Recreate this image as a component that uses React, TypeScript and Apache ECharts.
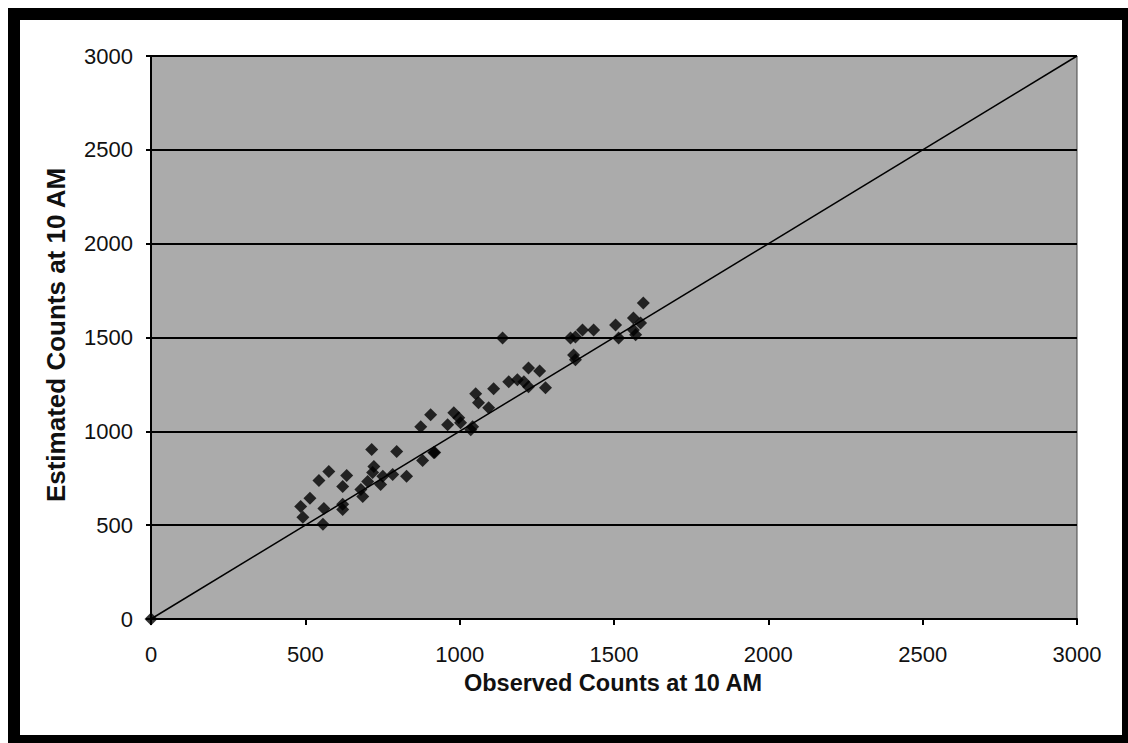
import React, { useEffect, useRef } from "react";
import * as echarts from "echarts";

const observed: number[] = [
  0, 485, 492, 515, 557, 560, 544, 576, 621, 621, 634, 621, 680, 686, 702, 715,
  722, 718, 744, 751, 783, 796, 828, 874, 880, 919, 906, 916, 961, 981, 997,
  1003, 1036, 1042, 1052, 1061, 1094, 1110, 1159, 1187, 1208, 1223, 1223, 1259,
  1278, 1139, 1359, 1375, 1369, 1375, 1398, 1434, 1505, 1515, 1563, 1586, 1563,
  1570, 1595,
];
const estimated: number[] = [
  0, 600, 542, 643, 505, 589, 738, 786, 611, 584, 765, 706, 690, 653, 733, 903,
  813, 780, 717, 760, 770, 892, 760, 1025, 844, 887, 1089, 887, 1035, 1099, 1073,
  1046, 1009, 1025, 1200, 1152, 1126, 1227, 1264, 1275, 1264, 1338, 1237, 1322,
  1232, 1498, 1498, 1503, 1407, 1381, 1540, 1540, 1567, 1498, 1604, 1577, 1540,
  1514, 1684,
];
const identityLine: number[][] = [
  [0, 0],
  [3000, 3000],
];
const tickValues: number[] = [0, 500, 1000, 1500, 2000, 2500, 3000];
const xTitle = "Observed Counts at 10 AM";
const yTitle = "Estimated Counts at 10 AM";

export default function App() {
  const ref = useRef<HTMLDivElement>(null);
  useEffect(() => {
    if (!ref.current) return;
    const chart = echarts.init(ref.current, undefined, { renderer: "svg" });
    const points = observed.map((x, i) => [x, estimated[i]]);
    const font = "'Liberation Sans', Arial, sans-serif";
    const fmt = (v: number) => String(v);
    chart.setOption({
      animation: false,
      grid: {
        left: 151,
        right: 51,
        top: 56,
        bottom: 124,
        show: true,
        backgroundColor: "#ababab",
        borderColor: "#444",
        borderWidth: 1,
      },
      xAxis: {
        type: "value",
        min: tickValues[0],
        max: tickValues[tickValues.length - 1],
        interval: 500,
        axisLine: { show: true, lineStyle: { color: "#000", width: 2 } },
        axisTick: { show: true, inside: false, length: 6, lineStyle: { color: "#000", width: 2 } },
        splitLine: { show: false },
        axisLabel: { color: "#111", fontSize: 22, fontFamily: font, margin: 24, formatter: fmt },
      },
      yAxis: {
        type: "value",
        min: tickValues[0],
        max: tickValues[tickValues.length - 1],
        interval: 500,
        axisLine: { show: true, lineStyle: { color: "#000", width: 2 } },
        axisTick: { show: true, inside: false, length: 5, lineStyle: { color: "#000", width: 2 } },
        splitLine: { show: true, lineStyle: { color: "#000", width: 2 } },
        axisLabel: { color: "#111", fontSize: 22, fontFamily: font, margin: 18, formatter: fmt },
      },
      graphic: [
        {
          type: "text",
          x: 613,
          y: 683,
          style: {
            text: xTitle,
            font: `bold 23.5px ${font}`,
            fill: "#111",
            textAlign: "center",
            textVerticalAlign: "middle",
          },
        },
        {
          type: "text",
          x: 56,
          y: 335,
          rotation: Math.PI / 2,
          style: {
            text: yTitle,
            font: `bold 26px ${font}`,
            fill: "#111",
            textAlign: "center",
            textVerticalAlign: "middle",
          },
        },
      ],
      series: [
        {
          type: "line",
          data: identityLine,
          showSymbol: false,
          symbol: "none",
          lineStyle: { color: "#000", width: 1.5 },
          z: 3,
        },
        {
          type: "scatter",
          data: points,
          symbol: "diamond",
          symbolSize: 13,
          itemStyle: { color: "#000" },
          z: 4,
        },
      ],
    });
    return () => chart.dispose();
  }, []);
  return (
    <div style={{ position: "fixed", left: 0, top: 0, width: 1128, height: 743, background: "#fff" }}>
      <div style={{ position: "absolute", left: 8, top: 8, width: 1120, height: 735, background: "#000" }} />
      <div style={{ position: "absolute", left: 20, top: 20, width: 1102, height: 715, background: "#fff" }} />
      <div ref={ref} style={{ position: "absolute", left: 0, top: 0, width: 1128, height: 743 }} />
    </div>
  );
}
